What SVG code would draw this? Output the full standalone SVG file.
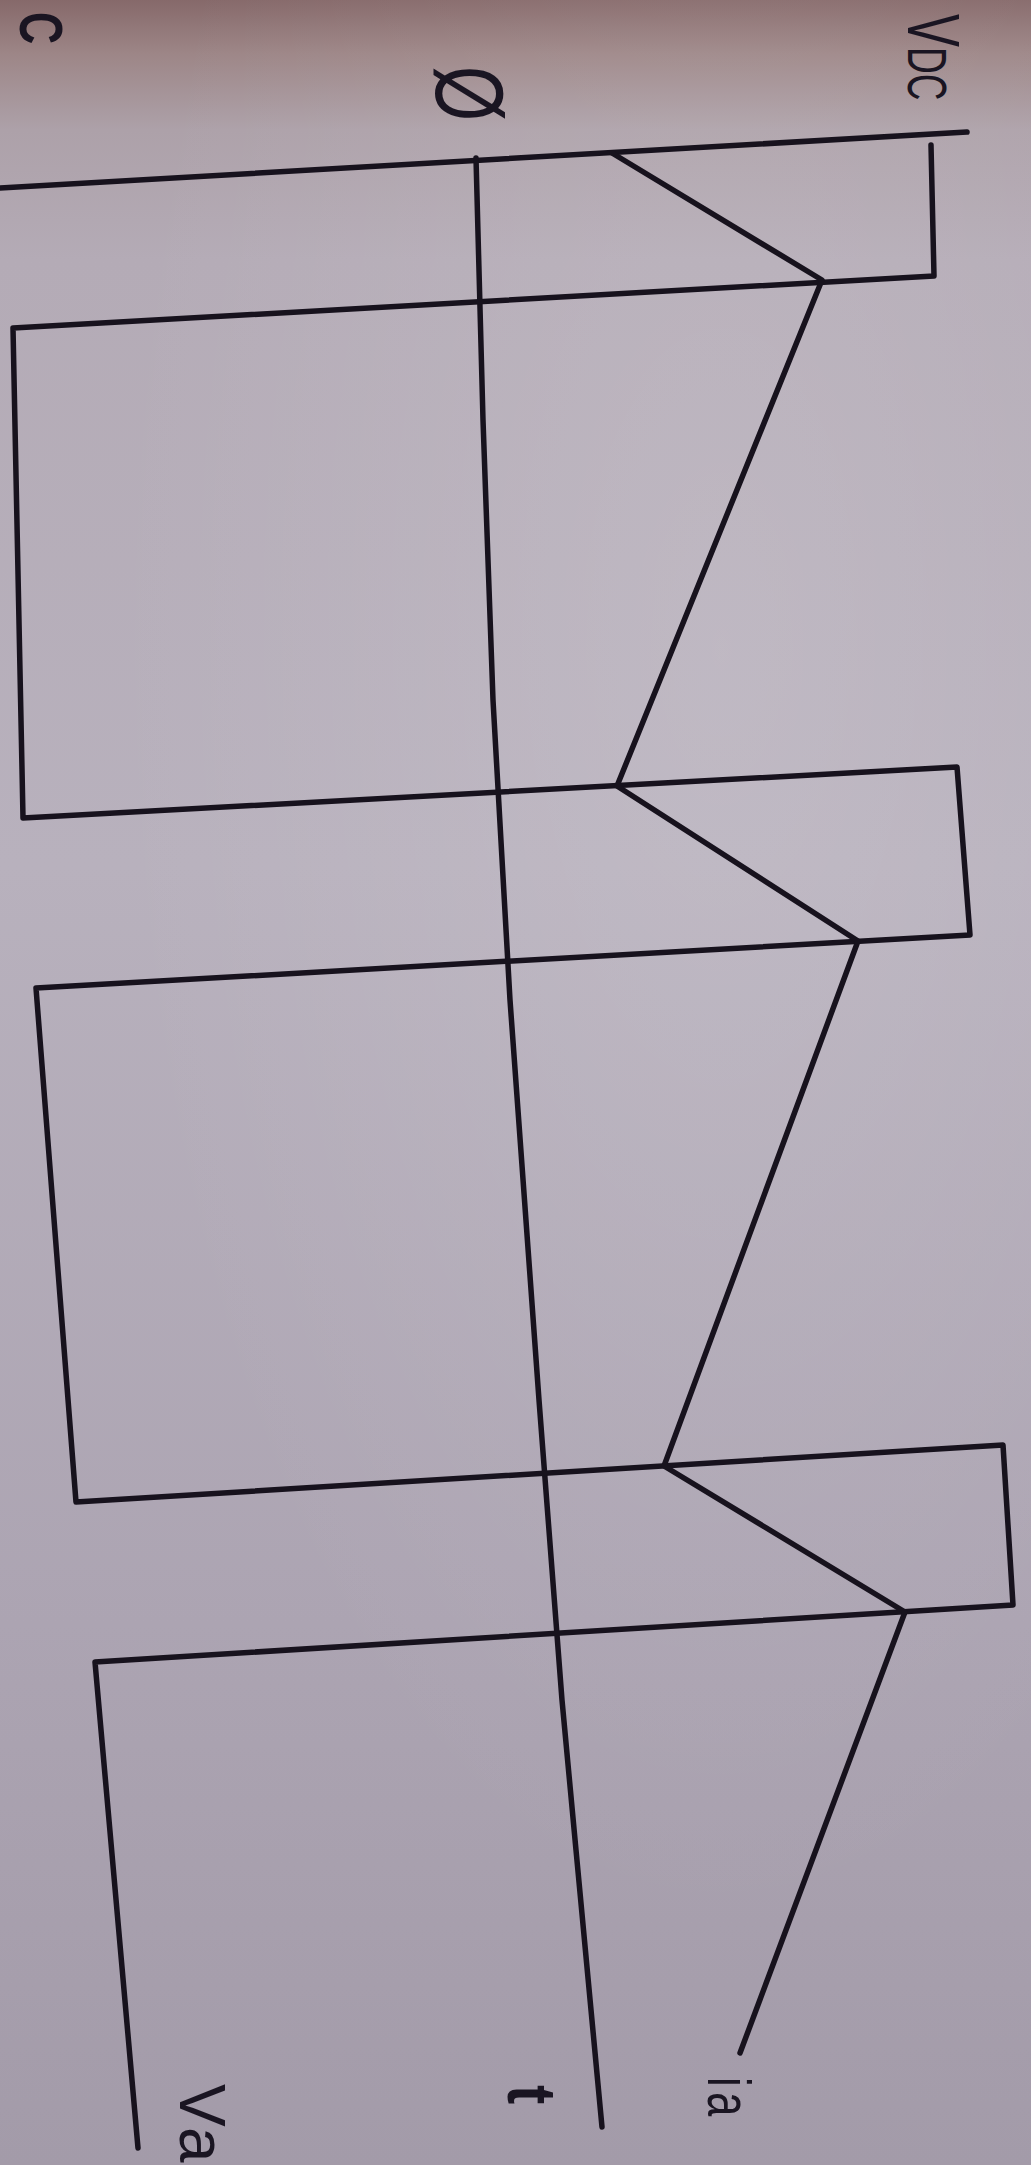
<svg xmlns="http://www.w3.org/2000/svg" width="1031" height="2165" viewBox="0 0 1031 2165">
  <defs>
    <linearGradient id="paper" x1="0" y1="0" x2="0" y2="1">
      <stop offset="0" stop-color="#86696a"/>
      <stop offset="0.025" stop-color="#9d8687"/>
      <stop offset="0.06" stop-color="#ada1a9"/>
      <stop offset="0.12" stop-color="#b4abb6"/>
      <stop offset="0.4" stop-color="#b8b1bd"/>
      <stop offset="0.75" stop-color="#aca4b2"/>
      <stop offset="1" stop-color="#a39ba9"/>
    </linearGradient>
    <radialGradient id="glow" cx="0.7" cy="0.3" r="0.6">
      <stop offset="0" stop-color="#ffffff" stop-opacity="0.12"/>
      <stop offset="1" stop-color="#ffffff" stop-opacity="0"/>
    </radialGradient>
  </defs>
  <style>
    .ln { fill: none; stroke: #17121d; stroke-width: 5.5; stroke-linejoin: round; stroke-linecap: round; }
    .lbl { font-family: "Liberation Sans", Arial, sans-serif; fill: #1a1522; }
  </style>
  <rect x="0" y="0" width="1031" height="2165" fill="url(#paper)"/>
  <rect x="0" y="0" width="1031" height="2165" fill="url(#glow)"/>

  <g id="axes">
    <line id="y-axis" class="ln" x1="0" y1="188" x2="967" y2="132"/>
    <polyline id="t-axis" class="ln" points="476,158 483,420 493,700 510,1000 539,1400 562,1700 576,1850 602,2127"/>
  </g>

  <g id="waveforms">
    <polyline id="va" class="ln" points="931,145 934,276 13,328 23,818 957,767 970,935 36,988 76,1502 1003,1445 1013,1605 95,1662 138,2148"/>
    <polyline id="ia" class="ln" points="612,153 822,280 617,786 858,941 664,1466 905,1612 740,2053"/>
  </g>

  <g id="labels">
    <text id="lbl-c" class="lbl" font-size="62" font-weight="bold" transform="translate(20,12) rotate(90) scale(0.72,1)">C</text>
    <text id="lbl-zero" class="lbl" font-size="96" transform="translate(436,66) rotate(90) scale(0.74,1)">Ø</text>
    <text id="lbl-vdc" class="lbl" transform="translate(908,14) rotate(90) scale(0.66,1)"><tspan font-size="75">V</tspan><tspan font-size="56">DC</tspan></text>
    <text id="lbl-ia" class="lbl" font-size="62" letter-spacing="8" transform="translate(708,2077) rotate(90) scale(0.7,1)">ia</text>
    <text id="lbl-t" class="lbl" font-size="68" font-weight="bold" transform="translate(508,2085) rotate(90) scale(0.85,1)">t</text>
    <text id="lbl-va" class="lbl" font-size="64" letter-spacing="5" transform="translate(180,2084) rotate(90)">Va</text>
  </g>
</svg>
